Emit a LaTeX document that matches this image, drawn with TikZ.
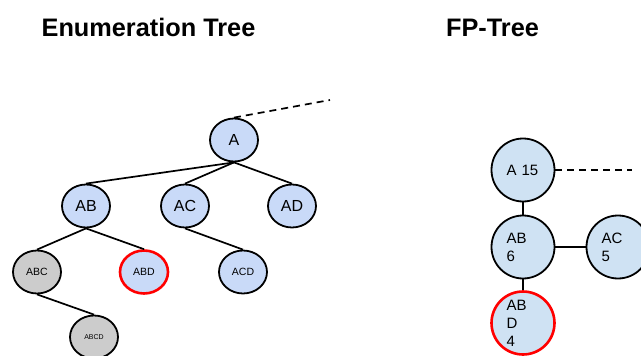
\documentclass[tikz,border=0pt]{standalone}
\usepackage{fontspec}
\setmainfont{Liberation Sans}
\usetikzlibrary{shapes.geometric}
\definecolor{enumblue}{HTML}{C9DAF8}
\definecolor{fpblue}{HTML}{CFE2F3}
\definecolor{grayfill}{HTML}{CCCCCC}
\definecolor{redline}{HTML}{FF0000}
\tikzset{
  title/.style={font=\bfseries\fontsize{25.3}{29}\selectfont, anchor=base, inner sep=0},
  enode/.style={ellipse, draw=black, line width=1.8pt, fill=enumblue, minimum width=48pt, minimum height=43pt, inner sep=0},
  gnode/.style={enode, fill=grayfill},
  rnode/.style={enode, draw=redline, line width=2.6pt},
  big/.style={font=\fontsize{16}{18}\selectfont},
  small/.style={font=\fontsize{10.5}{12}\selectfont},
  tiny/.style={font=\fontsize{7}{8}\selectfont},
  fnode/.style={circle, draw=black, line width=1.8pt, fill=fpblue, minimum size=63pt, inner sep=0, font=\fontsize{15}{18}\selectfont, align=left, text width=33pt},
  frnode/.style={fnode, draw=redline, line width=2.6pt},
  edge/.style={draw=black, line width=1.7pt},
  dashedge/.style={draw=black, line width=1.7pt, dash pattern=on 7pt off 5pt}
}
\begin{document}
\begin{tikzpicture}[x=1pt,y=-1pt]
\clip (0,0) rectangle (641,356);
\fill[white] (0,0) rectangle (641,356);
% titles
\node[title] (t1) at (148.5,36) {Enumeration Tree};
\node[title] (t2) at (492.5,36) {FP-Tree};
% enumeration tree
\node[enode, big] (A) at (234,140) {A};
\node[enode, big] (AB) at (86,206) {AB};
\node[enode, big] (AC) at (185,206) {AC};
\node[enode, big] (AD) at (292,206) {AD};
\node[gnode, small] (ABC) at (37,272) {ABC};
\node[rnode, small] (ABD) at (144,272) {ABD};
\node[enode, small] (ACD) at (243,272) {ACD};
\node[gnode, tiny] (ABCD) at (94,337) {ABCD};
\coordinate (Aend) at (330,100);
\draw[edge] (A.south) -- (AB.north);
\draw[edge] (A.south) -- (AC.north);
\draw[edge] (A.south) -- (AD.north);
\draw[edge] (AB.south) -- (ABC.north);
\draw[edge] (AB.south) -- (ABD.north);
\draw[edge] (AC.south) -- (ACD.north);
\draw[edge] (ABC.south) -- (ABCD.north);
\draw[dashedge] (A.north) -- (Aend);
% FP tree
\node[fnode] (F1) at (523,170) {A 15};
\node[fnode] (F2) at (523,247) {AB\\6};
\node[fnode] (F3) at (618,247) {AC\\5};
\node[frnode] (F4) at (523,323) {AB\\D\\4};
\coordinate (Fend) at (632,170);
\draw[edge] (F1) -- (F2);
\draw[edge] (F2) -- (F3);
\draw[edge] (F2) -- (F4);
\draw[dashedge] (F1.east) -- (Fend);
\end{tikzpicture}
\end{document}
